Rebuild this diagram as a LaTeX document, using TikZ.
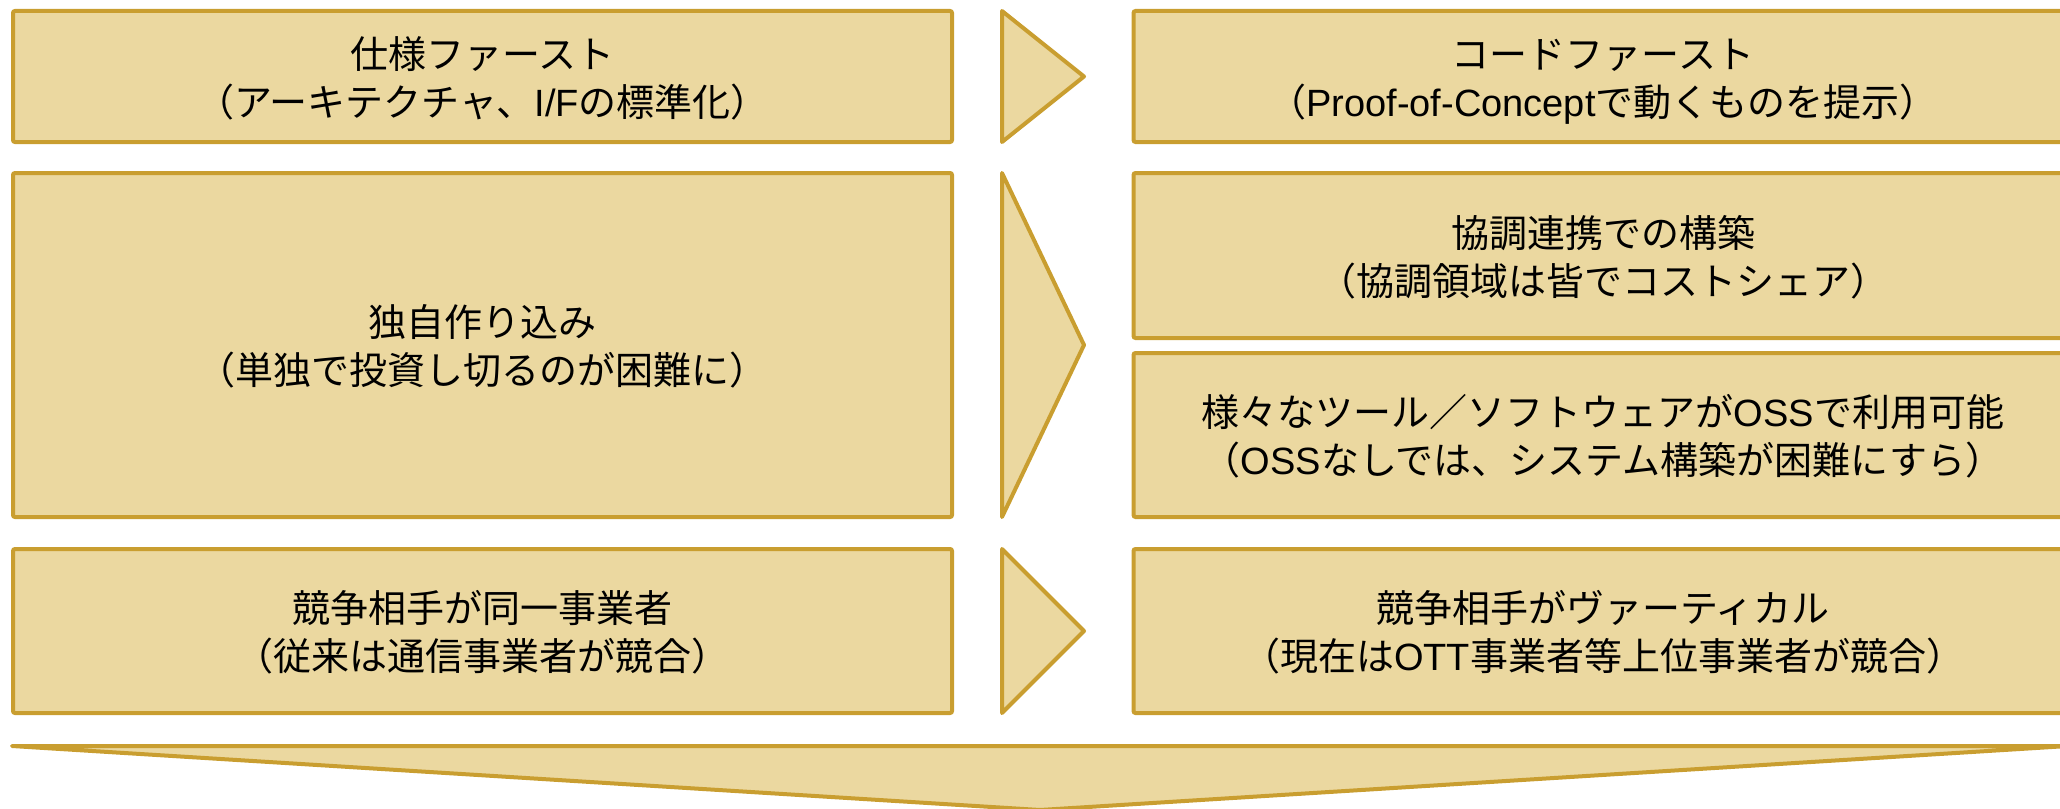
\documentclass[tikz,border=0pt]{standalone}
\usepackage{fontspec}
\setmainfont{Noto Sans CJK JP}
\newfontfamily\lat{Liberation Sans}
\definecolor{boxfill}{RGB}{235,216,160}
\definecolor{boxline}{RGB}{201,158,48}
\newcommand{\twolines}[2]{\raisebox{-3pt}[\height][\depth]{\begin{tabular}{@{}c@{}}#1\\#2\end{tabular}}}
\begin{document}
\begin{tikzpicture}[x=0.5pt,y=-0.5pt,
  box/.style={draw=boxline,fill=boxfill,line width=2pt,rounded corners=1pt,
    font=\fontsize{19}{24}\selectfont,inner sep=0pt,minimum width=469.5pt},
  tri/.style={draw=boxline,fill=boxfill,line width=2pt,line join=round}]
\useasboundingbox (0,0) rectangle (2060,808);
% left column
\node[box,minimum height=65.5pt] (l1) at (482.5,76.5) {\twolines{仕様ファースト}{（アーキテクチャ、{\lat I/F}の標準化）}};
\node[box,minimum height=172pt] (l2) at (482.5,345) {\twolines{独自作り込み}{（単独で投資し切るのが困難に）}};
\node[box,minimum height=82pt] (l3) at (482.5,631) {\twolines{競争相手が同一事業者}{（従来は通信事業者が競合）}};
% right column
\node[box,minimum height=65.5pt] (r1) at (1603,76.5) {\twolines{コードファースト}{（{\lat Proof-of-Concept}で動くものを提示）}};
\node[box,minimum height=82.5pt] (r2a) at (1603,255.5) {\twolines{協調連携での構築}{（協調領域は皆でコストシェア）}};
\node[box,minimum height=82pt] (r2b) at (1603,435) {\twolines{様々なツール／ソフトウェアが{\lat OSS}で利用可能}{（{\lat OSS}なしでは、システム構築が困難にすら）}};
\node[box,minimum height=82pt] (r3) at (1603,631) {\twolines{競争相手がヴァーティカル}{（現在は{\lat OTT}事業者等上位事業者が競合）}};
% arrows
\draw[tri] (1002,11) -- (1084,76.5) -- (1002,142) -- cycle;
\draw[tri] (1002,173) -- (1084,345) -- (1002,517) -- cycle;
\draw[tri] (1002,549) -- (1084,631) -- (1002,713) -- cycle;
\draw[tri] (12,746) -- (2068,746) -- (1040,810) -- cycle;
\end{tikzpicture}
\end{document}
